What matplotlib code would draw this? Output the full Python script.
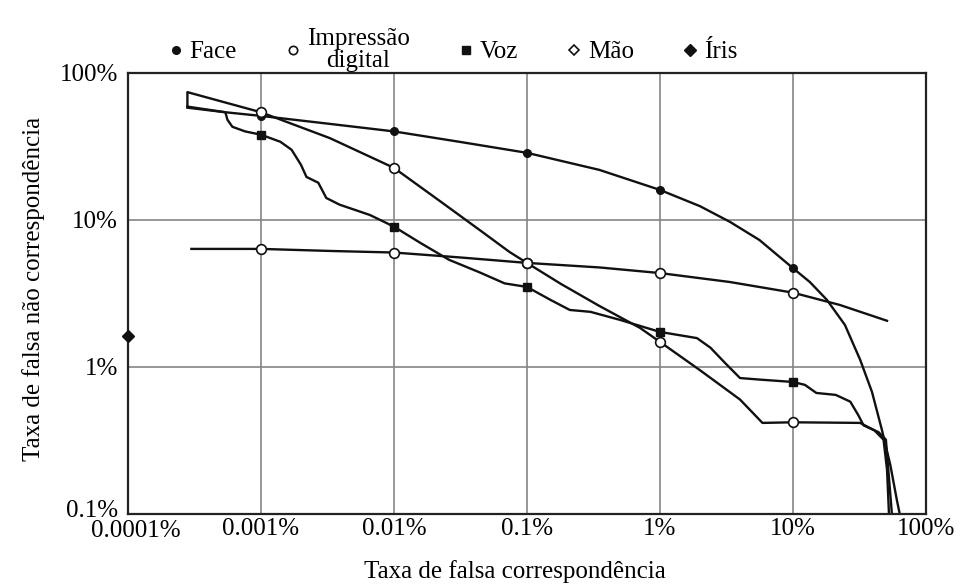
import matplotlib
matplotlib.use("Agg")
import matplotlib.pyplot as plt
import matplotlib.transforms as mtransforms
from matplotlib.lines import Line2D

plt.rcParams['font.family'] = ['Liberation Serif', 'DejaVu Serif']
plt.rcParams['font.size'] = 18

# valores em %
xticks = [0.0001, 0.001, 0.01, 0.1, 1, 10, 100]
xtick_labels = ['0.0001%', '0.001%', '0.01%', '0.1%', '1%', '10%', '100%']
yticks = [0.1, 1, 10, 100]
ytick_labels = ['0.1%', '1%', '10%', '100%']

marker_x = [0.001, 0.01, 0.1, 1, 10]

face_x = [0.00028, 0.00054, 0.001, 0.0033, 0.01, 0.031, 0.1, 0.35, 1, 2.0, 3.36, 5.6, 10,
          13.4, 18, 24.6, 32, 39.3, 46.7, 54, 60.5, 64.9]
face_y = [58, 54, 51, 45, 40, 34, 28.6, 21.9, 16, 12.4, 9.7, 7.3, 4.7,
          3.78, 2.86, 1.93, 1.12, 0.676, 0.372, 0.215, 0.124, 0.091]
face_m = [51, 40, 28.6, 16, 4.7]

digital_x = [0.00028, 0.00028, 0.001, 0.0033, 0.01, 0.022, 0.044, 0.074, 0.1, 0.18, 0.35, 0.71, 1.0,
             2.0, 4.0, 5.9, 10, 32, 41, 48, 51, 53]
digital_y = [59, 74, 54, 36, 22.6, 13.5, 8.55, 6.05, 5.1, 3.67, 2.6, 1.84, 1.48,
             0.95, 0.60, 0.416, 0.42, 0.416, 0.37, 0.32, 0.2, 0.09]
digital_m = [54, 22.6, 5.1, 1.48, 0.42]

voz_x = [0.00028, 0.00054, 0.00056, 0.00061, 0.00076, 0.001, 0.0014, 0.0017, 0.002, 0.0022, 0.0027,
         0.0031, 0.0039, 0.0066, 0.01, 0.0157, 0.026, 0.044, 0.068, 0.1, 0.15, 0.21, 0.30, 0.5, 1.0,
         1.9, 2.4, 3.1, 4.0, 5.6, 10, 12.3, 15, 21, 27, 31, 34, 44, 50, 56]
voz_y = [59, 54, 48, 43, 40, 38, 34, 30, 23.7, 19.6, 17.9,
         14.1, 12.7, 10.8, 9.0, 7.0, 5.35, 4.4, 3.7, 3.5, 2.86, 2.44, 2.37, 2.09, 1.73,
         1.57, 1.35, 1.06, 0.84, 0.82, 0.79, 0.755, 0.665, 0.645, 0.58, 0.47, 0.40, 0.36, 0.32, 0.09]
voz_m = [38, 9.0, 3.5, 1.73, 0.79]

mao_x = [0.0003, 0.001, 0.0033, 0.01, 0.031, 0.1, 0.35, 1, 3.36, 10, 22.5, 51]
mao_y = [6.35, 6.35, 6.15, 6.0, 5.56, 5.1, 4.75, 4.35, 3.78, 3.2, 2.64, 2.06]
mao_m = [6.35, 6.0, 5.1, 4.35, 3.2]

iris_x = [0.0001]
iris_y = [1.63]

fig = plt.figure(figsize=(9.62, 5.88), dpi=100)
ax = fig.add_axes([0.133, 0.126, 0.8295, 0.750])

ax.set_xscale('log')
ax.set_yscale('log')
ax.set_xlim(0.0001, 100)
ax.set_ylim(0.1, 100)

lc = '#111111'
lw = 1.7
ax.plot(face_x, face_y, color=lc, lw=lw)
ax.plot(digital_x, digital_y, color=lc, lw=lw)
ax.plot(voz_x, voz_y, color=lc, lw=lw)
ax.plot(mao_x, mao_y, color=lc, lw=lw)

ax.plot(marker_x, face_m, 'o', color=lc, ms=5.5, zorder=5)
ax.plot(marker_x, voz_m, 's', color=lc, ms=6, zorder=5)
ax.plot(marker_x, mao_m, 'o', mfc='white', mec=lc, mew=1.2, ms=7, zorder=5)
ax.plot(marker_x, digital_m, 'o', mfc='white', mec=lc, mew=1.2, ms=7, zorder=6)
ax.plot(iris_x, iris_y, 'D', color=lc, ms=6, clip_on=False, zorder=7)

ax.set_xticks(xticks)
ax.set_xticklabels(xtick_labels)
ax.set_yticks(yticks)
ax.set_yticklabels(ytick_labels)
ax.minorticks_off()
ax.tick_params(axis='both', length=0)
ax.tick_params(axis='x', pad=3)
ax.tick_params(axis='y', pad=7)

# pequenos ajustes dos rótulos nos cantos, como no original
xl = ax.get_xticklabels()[0]
xl.set_transform(xl.get_transform() + mtransforms.ScaledTranslation(8 / 100, -2 / 100, fig.dpi_scale_trans))
yl = ax.get_yticklabels()[0]
yl.set_transform(yl.get_transform() + mtransforms.ScaledTranslation(0, 5 / 100, fig.dpi_scale_trans))

ax.grid(True, color='#858585', lw=1.2)
ax.set_axisbelow(True)
for s in ax.spines.values():
    s.set_linewidth(1.6)
    s.set_color('#222222')

ax.set_xlabel('Taxa de falsa correspondência')
ax.xaxis.set_label_coords(0.485, -0.105)
ax.set_ylabel('Taxa de falsa não correspondência')
ax.yaxis.set_label_coords(-0.104, 0.51)

handles = [
    Line2D([], [], marker='o', color=lc, ls='none', ms=5.5),
    Line2D([], [], marker='o', mfc='white', mec=lc, mew=1.2, ls='none', ms=6),
    Line2D([], [], marker='s', color=lc, ls='none', ms=6),
    Line2D([], [], marker='D', mfc='white', mec=lc, mew=1.2, ls='none', ms=5.5),
    Line2D([], [], marker='D', color=lc, ls='none', ms=6),
]
labels = ['Face', 'Impressão\ndigital', 'Voz', 'Mão', 'Íris']
leg = fig.legend(handles, labels, ncol=5, loc='center left', bbox_to_anchor=(0.176, 0.915),
                 frameon=False, handlelength=0.5, handletextpad=0.3, columnspacing=2.0,
                 borderpad=0, borderaxespad=0)
for t in leg.get_texts():
    t.set_multialignment('center')
    t.set_linespacing(1.0)

fig.savefig('out.png', dpi=100)
